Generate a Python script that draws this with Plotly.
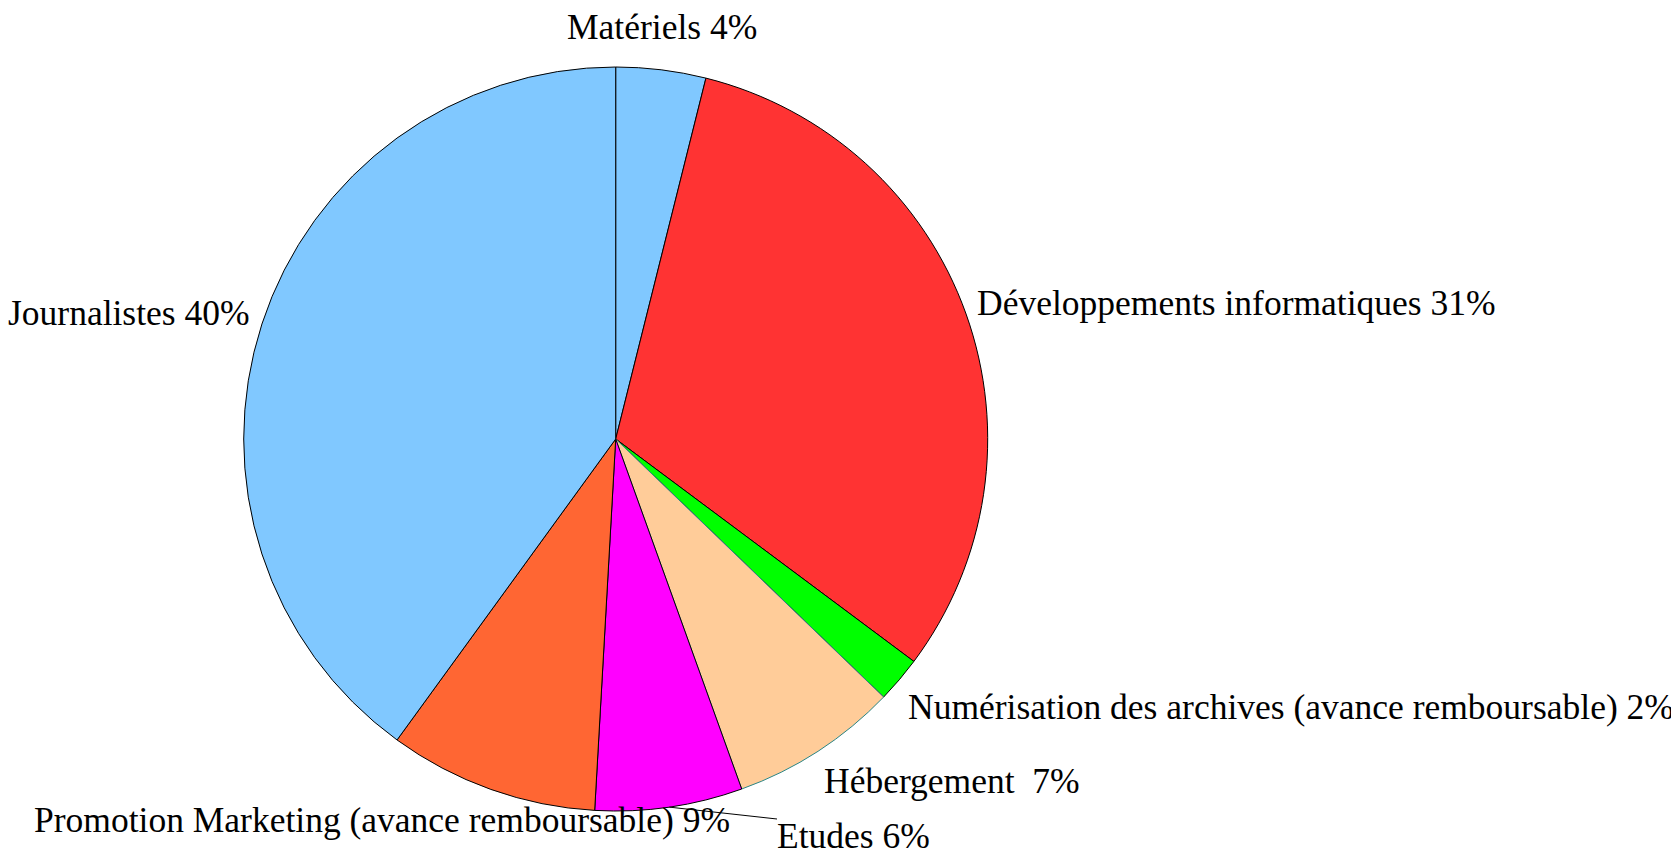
import math
import plotly.graph_objects as go

# ---- data ----
labels = ["Matériels", "Développements informatiques",
          "Numérisation des archives (avance remboursable)", "Hébergement ",
          "Etudes", "Promotion Marketing (avance remboursable)", "Journalistes"]
values = [3.9, 31.3, 2.0, 7.3, 6.4, 9.1, 40.0]
colors = ["#80C8FF", "#FF3333", "#00FF00", "#FFCC99", "#FF00FF", "#FF6633", "#80C8FF"]
line_colors = ["#000000", "#000000", "#000000", "#2A8585", "#000000", "#000000", "#000000"]

W, H = 1679, 853
OFF = 8  # page body margin: figure div starts 8px in from the page corner
CX, CY, R = 615.7 - OFF, 439.0 - OFF, 372.0  # pie centre / radius in figure pixels

total = sum(values)
pct = [round(v / total * 100) for v in values]

fig = go.Figure(go.Pie(
    labels=labels, values=values, sort=False, direction="clockwise", rotation=0,
    marker=dict(colors=colors, line=dict(color=line_colors, width=1)),
    textinfo="none", hoverinfo="label+percent", showlegend=False,
    domain=dict(x=[(CX - R) / W, (CX + R) / W], y=[(H - CY - R) / H, (H - CY + R) / H]),
))

# label placement (page pixel coordinates of the text anchor, anchor side)
label_pos = [
    (662, 27, "center"),
    (975, 303, "left"),
    (906, 707, "left"),
    (822, 781, "left"),
    (775, 836, "left"),
    (732, 820, "right"),
    (252, 313, "right"),
]

font = dict(family="Liberation Serif, Times New Roman, serif", size=35.5, color="#000000")
annotations = []
for (lab, p, (px, py, anc)) in zip(labels, pct, label_pos):
    annotations.append(dict(
        x=(px - OFF) / W, y=1 - (py - OFF) / H, xref="paper", yref="paper",
        text=f"{lab} {p}%", showarrow=False, xanchor=anc, yanchor="middle", font=font,
    ))

# leader line for "Etudes" from the slice mid-angle on the rim to the label
cum = 0.0
mids = []
for v in values:
    mids.append((cum + v / 2) / total * 2 * math.pi)
    cum += v
i = labels.index("Etudes")
ax = CX + R * math.sin(mids[i])
ay = CY - R * math.cos(mids[i])
shapes = [dict(type="line", xref="paper", yref="paper",
               x0=ax / W, y0=1 - ay / H, x1=(777 - OFF) / W, y1=1 - (819 - OFF) / H,
               line=dict(color="#000000", width=1))]

fig.update_layout(
    width=W, height=H, margin=dict(l=0, r=0, t=0, b=0),
    paper_bgcolor="#FFFFFF", plot_bgcolor="#FFFFFF",
    annotations=annotations, shapes=shapes,
)
fig.write_html("out.html")
